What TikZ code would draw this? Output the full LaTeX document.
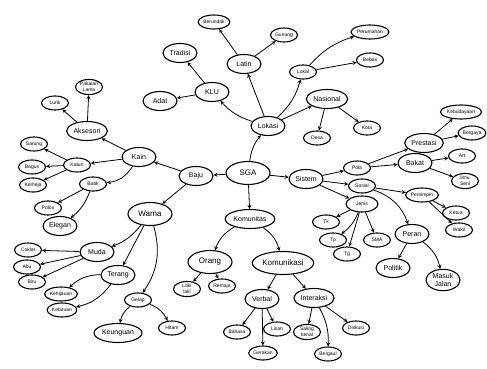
\documentclass[tikz,border=0pt]{standalone}
\usepackage{fontspec}
\setmainfont{Liberation Sans}
\usetikzlibrary{shapes.geometric}
\tikzset{
  idea/.style={ellipse, draw, line width=1.1pt, inner sep=1pt, align=center,
    minimum width=34pt, minimum height=19pt, font=\scriptsize},
  bigidea/.style={idea, font=\footnotesize, minimum width=44pt, minimum height=23pt},
  smallidea/.style={idea, font=\tiny, inner sep=0.5pt, minimum width=27pt, minimum height=14pt},
  link/.style={->, line width=0.8pt},
}
\begin{document}
\begin{tikzpicture}[x=1pt,y=-1pt,>=stealth]
\useasboundingbox (0,0) rectangle (487,369);

% centre
\node[bigidea] (sga) at (248,173) {SGA};
\node[idea] (baju) at (196,176) {Baju};
\node[idea] (lokasi) at (268,126) {Lokasi};
\node[idea] (sistem) at (306,179) {Sistem};
\node[idea] (komunitas) at (250,219) {Komunitas};

% baju
\node[idea] (kain) at (139,157) {Kain};
\node[idea] (aks) at (87,131) {Aksesori};
\node[smallidea] (lama) at (89,87) {Pakaian\\Lama};
\node[smallidea] (lurik) at (55,103) {Lurik};
\node[smallidea] (katun) at (77,165) {Katun};
\node[smallidea] (sarung) at (34,144) {Sarung};
\node[smallidea] (bagus) at (32,167) {Bagus};
\node[smallidea] (kemeja) at (33,185) {Kemeja};
\node[smallidea] (batik) at (93,184) {Batik};
\node[smallidea] (polos) at (48,208) {Polos};
\node[idea] (elegan) at (60,226) {Elegan};
\node[bigidea] (warna) at (150,214) {Warna};
\node[idea] (muda) at (97,252) {Muda};
\node[smallidea] (coklat) at (28,250) {Coklat};
\node[smallidea] (abu) at (27,267) {Abu};
\node[smallidea] (biru) at (32,282) {Biru};
\node[idea] (terang) at (118,275) {Terang};
\node[smallidea] (hijau) at (61,294) {Kehijauan};
\node[smallidea] (kebiruan) at (62,310) {Kebiruan};
\node[smallidea] (gelap) at (138,300) {Gelap};
\node[idea] (ungu) at (118,333) {Keunguan};
\node[smallidea] (hitam) at (172,328) {Hitam};

% lokasi
\node[idea] (latin) at (244,64) {Latin};
\node[smallidea] (gunung) at (284,35) {Gunung};
\node[smallidea] (undak) at (214,22) {Berundak};
\node[idea] (klu) at (212,92) {KLU};
\node[idea] (adat) at (160,101) {Adat};
\node[idea] (tradisi) at (180,53) {Tradisi};
\node[smallidea] (lokal) at (303,72) {Lokal};
\node[smallidea] (rumah) at (370,32) {Perumahan};
\node[smallidea] (bebas) at (370,60) {Bebas};
\node[idea] (nasional) at (327,99) {Nasional};
\node[smallidea] (desa) at (317,138) {Desa};
\node[smallidea] (kota) at (367,128) {Kota};

% sistem
\node[smallidea] (pola) at (357,168) {Pola};
\node[idea] (prestasi) at (424,143) {Prestasi};
\node[smallidea] (budaya) at (461,112) {Kebudayaan};
\node[smallidea] (gaya) at (472,133) {Bergaya};
\node[idea] (bakat) at (415,163) {Bakat};
\node[smallidea] (art) at (462,156) {Art};
\node[smallidea] (ilmu) at (465,181) {Ilmu\\Seni};
\node[smallidea] (sosial) at (362,186) {Sosial};
\node[smallidea] (pemimpin) at (422,195) {Pemimpin};
\node[smallidea] (ketua) at (456,213) {Ketua};
\node[smallidea] (wakil) at (459,230) {Wakil};
\node[smallidea, minimum width=32pt, minimum height=16pt] (jenis) at (362,204) {Jenis};
\node[smallidea] (tk) at (326,222) {Tk};
\node[smallidea] (tp) at (333,240) {Tp};
\node[smallidea] (tg) at (347,254) {Tg};
\node[smallidea] (sma) at (377,240) {SMA};
\node[idea] (peran) at (412,234) {Peran};
\node[idea] (politik) at (393,268) {Politik};
\node[idea] (masuk) at (443,280) {Masuk\\Jalan};

% komunitas
\node[bigidea] (orang) at (210,262) {Orang};
\node[bigidea] (komunikasi) at (283,263) {Komunikasi};
\node[smallidea] (laki) at (187,289) {Laki\\laki};
\node[smallidea] (remaja) at (222,286) {Remaja};
\node[idea] (verbal) at (262,299) {Verbal};
\node[idea] (interaksi) at (314,298) {Interaksi};
\node[smallidea] (bahasa) at (237,332) {Bahasa};
\node[smallidea] (lisan) at (277,329) {Lisan};
\node[smallidea] (gerak) at (263,353) {Gerakan};
\node[smallidea] (kenal) at (307,332) {Saling\\kenal};
\node[smallidea] (diskusi) at (356,328) {Diskusi};
\node[smallidea] (bergaul) at (328,354) {Bergaul};

% links
\draw[link] (sga) -- (baju);
\draw[link] (sga) to[bend left=15] (lokasi);
\draw[link] (sga) -- (sistem);
\draw[link] (sga) -- (komunitas);

\draw[link] (baju) -- (kain);
\draw[link] (baju) -- (warna);
\draw[link] (kain) -- (aks);
\draw[link] (kain) -- (katun);
\draw[link] (kain) to[bend left=25] (batik);
\draw[link] (aks) -- (lama);
\draw[link] (aks) -- (lurik);
\draw[link] (katun) -- (sarung);
\draw[link] (katun) -- (bagus);
\draw[link] (katun) -- (kemeja);
\draw[link] (batik) -- (polos);
\draw[link] (batik) to[bend left=15] (elegan);
\draw[link] (warna) to[bend left=15] (muda);
\draw[link] (warna) -- (terang);
\draw[link] (warna) to[bend left=25] (gelap);
\draw[link] (muda) -- (coklat);
\draw[link] (muda) -- (abu);
\draw[link] (muda) -- (biru);
\draw[link] (terang) to[bend right=20] (hijau);
\draw[link] (terang) to[bend left=20] (kebiruan);
\draw[link] (gelap) to[bend right=20] (ungu);
\draw[link] (gelap) to[bend left=20] (hitam);

\draw[link] (lokasi) -- (latin);
\draw[link] (lokasi) to[bend left=15] (klu);
\draw[link] (lokasi) to[bend right=15] (lokal);
\draw[link] (lokasi) -- (nasional);
\draw[link] (latin) -- (gunung);
\draw[link] (latin) -- (undak);
\draw[link] (klu) -- (adat);
\draw[link] (klu) -- (tradisi);
\draw[link] (lokal) to[bend left=15] (rumah);
\draw[link] (lokal) -- (bebas);
\draw[link] (nasional) -- (desa);
\draw[link] (nasional) -- (kota);

\draw[link] (sistem) -- (pola);
\draw[link] (sistem) -- (sosial);
\draw[link] (sistem) -- (jenis);
\draw[link] (pola) -- (prestasi);
\draw[link] (pola) -- (bakat);
\draw[link] (prestasi) -- (budaya);
\draw[link] (prestasi) -- (gaya);
\draw[link] (bakat) -- (art);
\draw[link] (bakat) -- (ilmu);
\draw[link] (sosial) -- (pemimpin);
\draw[link] (sosial) to[bend left=25] (peran);
\draw[link] (pemimpin) -- (ketua);
\draw[link] (pemimpin) -- (wakil);
\draw[link] (jenis) -- (tk);
\draw[link] (jenis) to[bend left=15] (tp);
\draw[link] (jenis) -- (tg);
\draw[link] (jenis) -- (sma);
\draw[link] (peran) -- (politik);
\draw[link] (peran) to[bend left=20] (masuk);

\draw[link] (komunitas) to[bend right=20] (orang);
\draw[link] (komunitas) to[bend left=20] (komunikasi);
\draw[link] (orang) -- (laki);
\draw[link] (orang) -- (remaja);
\draw[link] (komunikasi) -- (verbal);
\draw[link] (komunikasi) -- (interaksi);
\draw[link] (verbal) -- (bahasa);
\draw[link] (verbal) -- (lisan);
\draw[link] (verbal) -- (gerak);
\draw[link] (interaksi) -- (kenal);
\draw[link] (interaksi) -- (diskusi);
\draw[link] (interaksi) to[bend left=15] (bergaul);
\end{tikzpicture}
\end{document}
